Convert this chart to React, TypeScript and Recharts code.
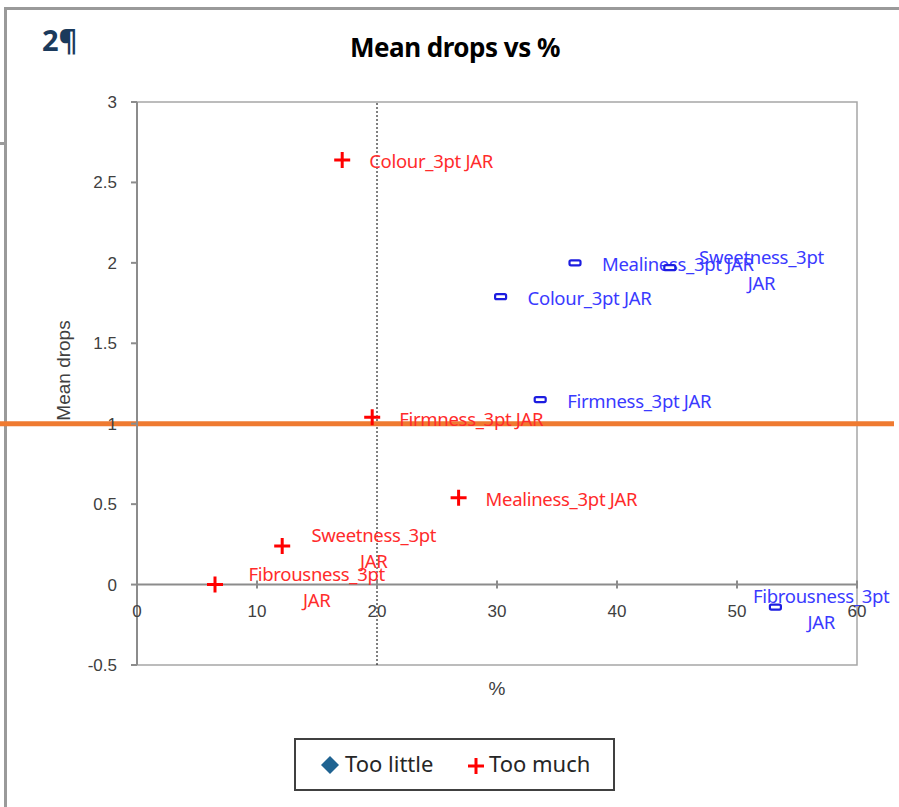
import React from "react";
import { ScatterChart, Scatter, XAxis, YAxis, ReferenceLine, ReferenceArea } from "recharts";

// attribute labels ("\n" = wrapped label)
const tooLittleNames = ["Colour_3pt JAR", "Firmness_3pt JAR", "Mealiness_3pt JAR", "Sweetness_3pt\nJAR", "Fibrousness_3pt\nJAR"];
const tooLittlePct = [30.3, 33.6, 36.5, 44.4, 53.2];
const tooLittleDrops = [1.79, 1.15, 2.0, 1.97, -0.14];

const tooMuchNames = ["Colour_3pt JAR", "Firmness_3pt JAR", "Mealiness_3pt JAR", "Sweetness_3pt\nJAR", "Fibrousness_3pt\nJAR"];
const tooMuchPct = [17.1, 19.6, 26.8, 12.1, 6.5];
const tooMuchDrops = [2.64, 1.04, 0.54, 0.24, 0.0];

const xTicks = [0, 10, 20, 30, 40, 50, 60];
const yTicks = [-0.5, 0, 0.5, 1, 1.5, 2, 2.5, 3];
const pctThreshold = 20; // dotted vertical line
const dropsThreshold = 1; // orange horizontal line

const W = 899;
const H = 807;
const PLOT_L = 137;
const PLOT_R = 857;
const PLOT_T = 102;
const PLOT_B = 665;
const X_MIN = 0;
const X_MAX = 60;
const Y_MIN = -0.5;
const Y_MAX = 3;
const Y_AXIS_W = 60;
const X_AXIS_H = 30;

const RED = "#ff0000";
const RED_TEXT = "#ff2b2b";
const BLUE = "#1d1de0";
const BLUE_TEXT = "#3a3aff";
const LABEL_FONT = "'Noto Sans', sans-serif";
const AXIS_FONT = "'Liberation Sans', Arial, sans-serif";
const LABEL_SIZE = 18.5;
const CHAR_W = 10.1;

const tooLittle = tooLittlePct.map((x, i) => ({ x, y: tooLittleDrops[i], name: tooLittleNames[i] }));
const tooMuch = tooMuchPct.map((x, i) => ({ x, y: tooMuchDrops[i], name: tooMuchNames[i] }));

// data x at a pixel column (used to stretch the orange line across the frame)
const xAtPx = (px: number) => X_MIN + ((px - PLOT_L) / (PLOT_R - PLOT_L)) * (X_MAX - X_MIN);
const y0Px = PLOT_T + ((PLOT_B - PLOT_T) * (Y_MAX - 0)) / (Y_MAX - Y_MIN);

const PointLabel = ({ cx, cy, text, color }: any) => {
  const lines = String(text).split("\n");
  const common = { fill: color, fontSize: LABEL_SIZE, fontFamily: LABEL_FONT, letterSpacing: -0.3 };
  if (lines.length === 1) {
    return (
      <text x={cx + 27} y={cy + 1} dominantBaseline="central" {...common}>
        {text}
      </text>
    );
  }
  const w = lines[0].length * CHAR_W;
  let center = cx + 26 + w / 2;
  if (center + w / 2 > W - 2) center = W - 2 - w / 2;
  return (
    <text textAnchor="middle" dominantBaseline="central" {...common}>
      <tspan x={center} y={cy - 12}>{lines[0]}</tspan>
      <tspan x={center} y={cy + 14}>{lines[1]}</tspan>
    </text>
  );
};

const PlusShape = (props: any) => {
  const { cx, cy, payload } = props;
  return (
    <g>
      <path d={`M${cx - 8},${cy}H${cx + 8}M${cx},${cy - 8}V${cy + 8}`} stroke={RED} strokeWidth={3} />
      <PointLabel cx={cx} cy={cy} text={payload.name} color={RED_TEXT} />
    </g>
  );
};

const DashShape = (props: any) => {
  const { cx, cy, payload } = props;
  return (
    <g>
      <rect x={cx - 5.5} y={cy - 2.5} width={11} height={5} rx={1.5} fill="#fff" stroke={BLUE} strokeWidth={2.2} />
      <PointLabel cx={cx} cy={cy} text={payload.name} color={BLUE_TEXT} />
    </g>
  );
};

const XTick = (props: any) => {
  const { x, payload } = props;
  return (
    <g>
      <line x1={x} x2={x} y1={y0Px - 4} y2={y0Px + 4} stroke="#8c8c8c" strokeWidth={2} />
      <text x={x} y={y0Px + 27} textAnchor="middle" dominantBaseline="central" fill="#404040" fontSize={17} fontFamily={AXIS_FONT}>
        {payload.value}
      </text>
    </g>
  );
};

const YTitle = ({ viewBox }: any) => {
  const x = viewBox.x - 14;
  const y = viewBox.y + viewBox.height / 2 - 13;
  return (
    <text x={x} y={y} transform={`rotate(-90, ${x}, ${y})`} textAnchor="middle" dominantBaseline="central" fill="#404040" fontSize={19} fontFamily={AXIS_FONT}>
      Mean drops
    </text>
  );
};

const XTitle = ({ viewBox }: any) => (
  <text x={viewBox.x + viewBox.width / 2} y={viewBox.y + 23} textAnchor="middle" dominantBaseline="central" fill="#404040" fontSize={19} fontFamily={AXIS_FONT}>
    %
  </text>
);

export default function App() {
  return (
    <div style={{ position: "absolute", left: 0, top: 0, width: W, height: H, background: "#fff", overflow: "hidden" }}>
      {/* frame of the slide behind */}
      <div style={{ position: "absolute", left: 4, top: 7, width: W, height: H, borderLeft: "3px solid #9a9a9a", borderTop: "3px solid #9a9a9a" }} />
      <div style={{ position: "absolute", left: 0, top: 142, width: 6, height: 3, background: "#9a9a9a" }} />

      <div style={{ position: "absolute", left: 42, top: 24, fontFamily: "'Noto Sans', sans-serif", fontWeight: 700, fontSize: 29, lineHeight: "32px", color: "#1b3a5c" }}>
        2¶
      </div>
      <div style={{ position: "absolute", left: 205, top: 30, width: 500, textAlign: "center", fontFamily: "'Noto Sans', sans-serif", fontWeight: 700, fontSize: 26, lineHeight: "34px", color: "#000", letterSpacing: -0.5 }}>
        Mean drops vs %
      </div>

      <div style={{ position: "absolute", left: 0, top: 0 }}>
        <ScatterChart
          width={W}
          height={H}
          margin={{ top: PLOT_T, right: W - PLOT_R, bottom: H - PLOT_B - X_AXIS_H, left: PLOT_L - Y_AXIS_W }}
          style={{ overflow: "visible" }}
        >
          <ReferenceArea x1={X_MIN} x2={X_MAX} y1={Y_MIN} y2={Y_MAX} fill="none" stroke="#a6a6a6" strokeWidth={1.5} ifOverflow="visible" />
          <XAxis
            type="number"
            dataKey="x"
            domain={[X_MIN, X_MAX]}
            ticks={xTicks}
            axisLine={false}
            tickLine={false}
            tick={<XTick />}
            height={X_AXIS_H}
            label={<XTitle />}
          />
          <YAxis
            type="number"
            dataKey="y"
            domain={[Y_MIN, Y_MAX]}
            ticks={yTicks}
            width={Y_AXIS_W}
            tickSize={6}
            tickMargin={14}
            axisLine={{ stroke: "#8c8c8c", strokeWidth: 2 }}
            tickLine={{ stroke: "#8c8c8c", strokeWidth: 2 }}
            tick={{ fill: "#404040", fontSize: 17, fontFamily: AXIS_FONT }}
            label={<YTitle />}
          />
          <ReferenceLine y={0} stroke="#8c8c8c" strokeWidth={2} />
          <ReferenceLine x={pctThreshold} stroke="#000" strokeWidth={1} strokeDasharray="2 2" />
          <ReferenceLine
            segment={[{ x: xAtPx(0), y: dropsThreshold }, { x: xAtPx(894), y: dropsThreshold }]}
            stroke="#ef7a30"
            strokeWidth={5}
            ifOverflow="visible"
          />
          <Scatter name="Too little" data={tooLittle} shape={DashShape} isAnimationActive={false} />
          <Scatter name="Too much" data={tooMuch} shape={PlusShape} isAnimationActive={false} />
        </ScatterChart>
      </div>

      {/* legend */}
      <div
        style={{
          position: "absolute",
          left: 294,
          top: 738,
          width: 321,
          height: 53,
          boxSizing: "border-box",
          border: "2px solid #404040",
          fontFamily: "'Noto Sans', sans-serif",
          fontSize: 22,
          color: "#262626",
        }}
      >
        <svg style={{ position: "absolute", left: 24, top: 15 }} width={20} height={20}>
          <path d="M10,1 L19,10 L10,19 L1,10 Z" fill="#1f6391" />
        </svg>
        <span style={{ position: "absolute", left: 49, top: 8, lineHeight: "30px" }}>Too little</span>
        <svg style={{ position: "absolute", left: 171, top: 17 }} width={18} height={18}>
          <path d="M1,9H17M9,1V17" stroke={RED} strokeWidth={3} />
        </svg>
        <span style={{ position: "absolute", left: 193, top: 8, lineHeight: "30px" }}>Too much</span>
      </div>
    </div>
  );
}
